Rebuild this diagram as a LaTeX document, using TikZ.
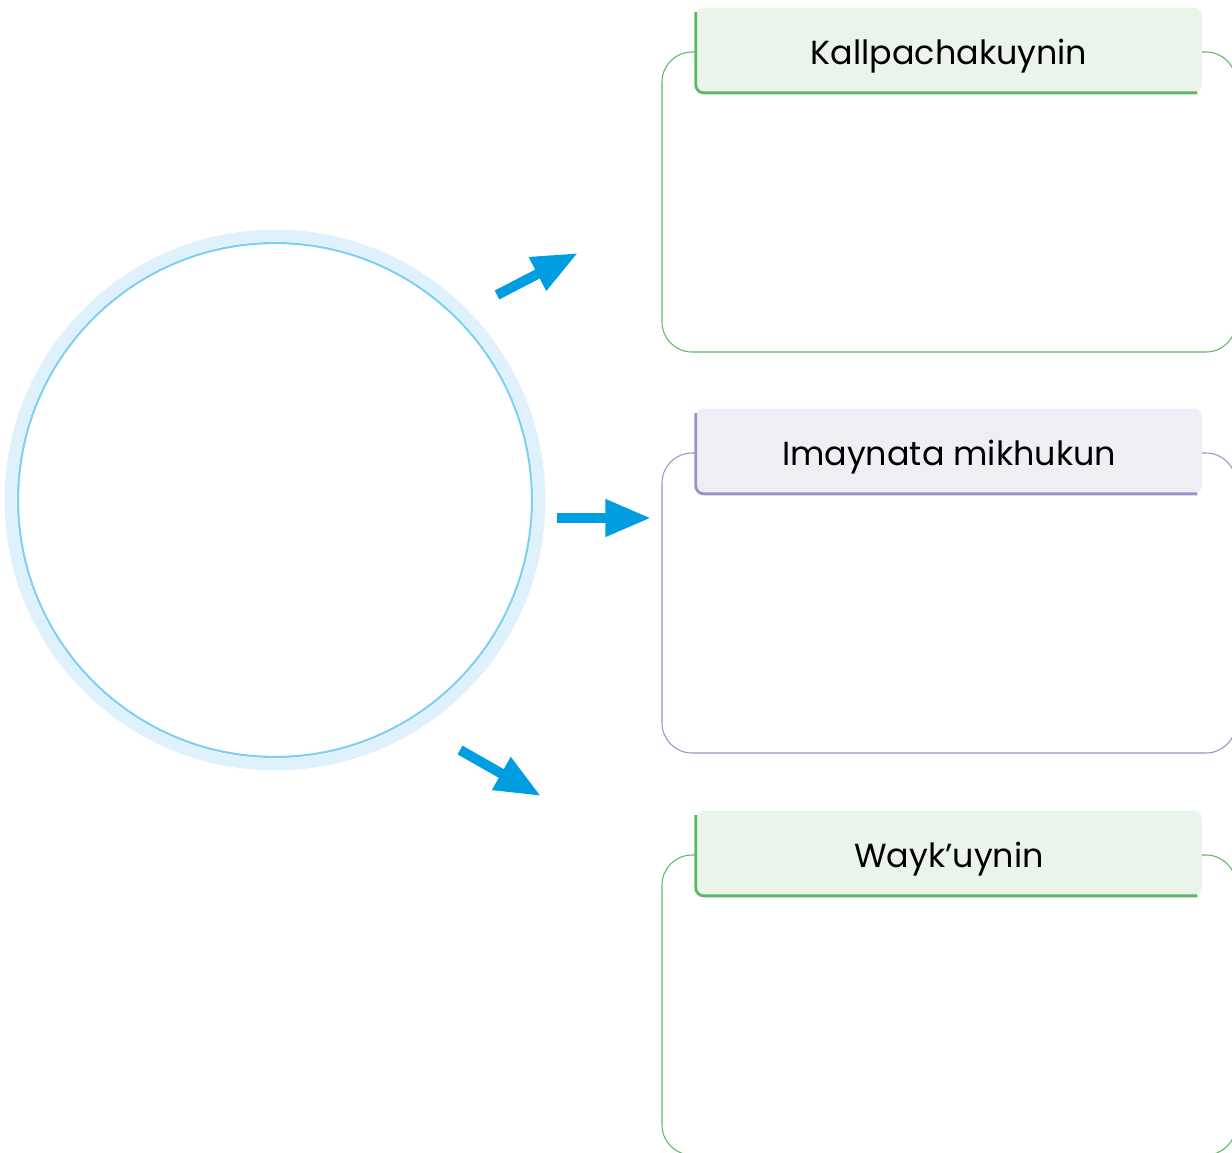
\documentclass[tikz,border=0pt]{standalone}
\usepackage{fontspec}
\setmainfont{Poppins}
\usetikzlibrary{arrows.meta,positioning}

\definecolor{leafline}{HTML}{5DB865}
\definecolor{leaffill}{HTML}{EAF4EA}
\definecolor{lilacline}{HTML}{9A92C6}
\definecolor{lilacfill}{HTML}{EEEEF5}
\definecolor{skyline}{HTML}{7ECFF4}
\definecolor{skyring}{HTML}{DFF1FC}
\definecolor{arrowblue}{HTML}{009EE0}

\begin{document}
\begin{tikzpicture}[x=0.02cm, y=-0.02cm,
    header/.style={minimum width=10.12cm, minimum height=1.7cm, rounded corners=0.16cm,
      font=\fontsize{19}{23}\selectfont, inner sep=0pt, text height=0.58cm, text depth=0cm},
    blockarrow/.style={arrowblue, line width=5.7pt, -{Triangle[length=26pt, width=20pt]}}]
  \useasboundingbox (0,0) rectangle (1232,1153);

  % Topic circle
  \node[circle, draw=skyline, line width=1.2pt, minimum size=10.28cm, inner sep=0pt] (topic) at (275,500) {};
  \draw[skyring, line width=0.24cm] (topic.center) circle (5.29cm);

  % Answer frames with their headers
  \foreach \i/\y/\txt/\c in {1/50/Kallpachakuynin/leaf, 2/451/Imaynata mikhukun/lilac, 3/853/{Wayk’uynin}/leaf} {
    \draw[\c line, line width=0.6pt, rounded corners=0.6cm] (662,\y+2) rectangle (1236,\y+302);
    \node[header, fill=\c fill] (hdr-\i) at (949,\y) {\txt};
    \draw[\c line, line width=1.6pt, rounded corners=0.16cm]
      ([yshift=-0.1cm]hdr-\i.north west) -- (hdr-\i.south west) -- ([xshift=-0.1cm]hdr-\i.south east);
  }

  % Arrows
  \coordinate (up-start) at (497,295);
  \coordinate (up-end) at (578,253);
  \coordinate (mid-start) at (557,518);
  \coordinate (mid-end) at (651,518);
  \coordinate (down-start) at (460,750);
  \coordinate (down-end) at (541,796);
  \draw[blockarrow] (up-start) -- (up-end);
  \draw[blockarrow] (mid-start) -- (mid-end);
  \draw[blockarrow] (down-start) -- (down-end);
\end{tikzpicture}
\end{document}
